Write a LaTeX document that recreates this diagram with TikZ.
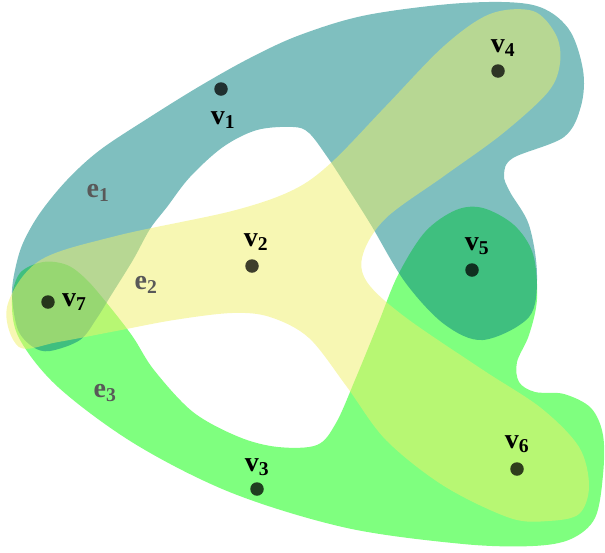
\documentclass[tikz,border=0pt]{standalone}
\usepackage{fontspec}
\setmainfont{Liberation Serif}
\usetikzlibrary{positioning}
\definecolor{paleyellow}{RGB}{240,240,104}

\begin{document}
\begin{tikzpicture}[
    x=1pt, y=-1pt,
    dot/.style={circle, fill=black, fill opacity=0.75, inner sep=0pt, minimum size=13.5pt},
    vlabel/.style={inner sep=0pt, font=\fontsize{28}{32}\selectfont\bfseries},
    elabel/.style={inner sep=0pt, text=black!65, font=\fontsize{28}{32}\selectfont\bfseries},
    edgeA/.style={fill=teal, fill opacity=0.5},
    edgeB/.style={fill=paleyellow, fill opacity=0.5},
    edgeC/.style={fill=green, fill opacity=0.5}
]
    \useasboundingbox (0,0) rectangle (605,552);

    % hyperedge e3 (green)
    \path[edgeC] plot[smooth cycle, tension=0.55] coordinates {
        (43,262) (67,265) (87,280) (110,307) (133,337) (154,370) (193,412)
        (239,437) (278,447) (317,445) (336,423) (355,380) (378,324) (398,275)
        (425,232) (456,210) (483,208) (514,225) (533,254) (537,299) (529,335)
        (517,362) (519,382) (535,392) (564,394) (591,408) (603,435) (603,475)
        (595,518) (571,539) (533,546) (463,544) (347,528) (232,493) (135,444)
        (58,387) (19,338) (12,300) (20,273)};

    % hyperedge e1 (teal)
    \path[edgeA] plot[smooth cycle, tension=0.55] coordinates {
        (12,296) (15,270) (23,243) (40,213) (67,180) (100,150) (150,117)
        (200,86) (250,58) (300,35) (367,15) (463,3) (533,5) (568,28) (583,70)
        (581,106) (564,137) (513,158) (504,175) (510,192) (529,225) (537,275)
        (529,317) (483,340) (444,324) (405,282) (371,225) (347,187) (328,158)
        (309,133) (293,127) (257,130) (223,147) (190,177) (167,207) (150,229)
        (133,260) (110,297) (97,318) (80,340) (50,351) (33,347) (18,330)};

    % hyperedge e2 (yellow)
    \path[edgeB] plot[smooth cycle, tension=0.55] coordinates {
        (7,307) (39,261) (116,236) (232,211) (293,190) (332,162) (386,106)
        (444,46) (490,14) (533,11) (556,35) (560,63) (548,92) (502,134)
        (444,176) (386,218) (363,254) (367,282) (405,317) (483,370) (541,408)
        (579,447) (589,486) (579,514) (548,521) (510,518) (444,486) (386,440)
        (347,387) (309,338) (270,317) (232,313) (174,320) (116,331) (58,342)
        (19,347)};

    % vertices
    \node[dot] (v1) at (221,89) {};
    \node[dot] (v2) at (252,266) {};
    \node[dot] (v3) at (257,489) {};
    \node[dot] (v4) at (498,71) {};
    \node[dot] (v5) at (472,270) {};
    \node[dot] (v6) at (517,469) {};
    \node[dot] (v7) at (48,302) {};

    % vertex labels
    \node[vlabel, below=15pt of v1, xshift=2pt] (l1) {v\textsubscript{1}};
    \node[vlabel, above=8pt of v2, xshift=4pt] (l2) {v\textsubscript{2}};
    \node[vlabel, above=6pt of v3] (l3) {v\textsubscript{3}};
    \node[vlabel, above=7pt of v4, xshift=5pt] (l4) {v\textsubscript{4}};
    \node[vlabel, above=8pt of v5, xshift=5pt] (l5) {v\textsubscript{5}};
    \node[vlabel, above=9pt of v6] (l6) {v\textsubscript{6}};
    \node[vlabel, right=7pt of v7] (l7) {v\textsubscript{7}};

    % hyperedge labels
    \node[elabel] (e1) at (98,193) {e\textsubscript{1}};
    \node[elabel] (e2) at (146,285) {e\textsubscript{2}};
    \node[elabel] (e3) at (105,393) {e\textsubscript{3}};

\end{tikzpicture}
\end{document}
